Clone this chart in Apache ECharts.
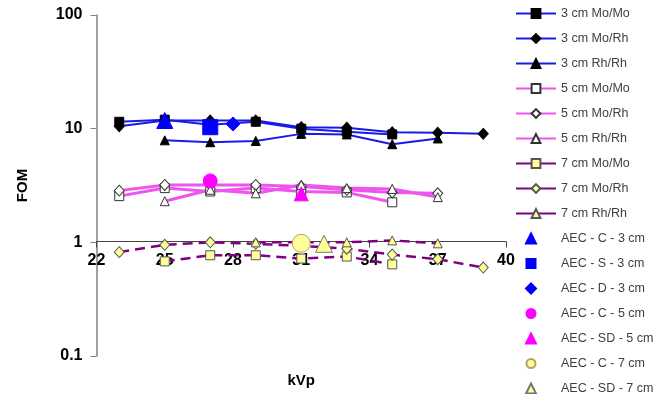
<!DOCTYPE html>
<html><head><meta charset="utf-8">
<script src="https://cdn.jsdelivr.net/npm/echarts@6/dist/echarts.min.js"></script>
<style>html,body{margin:0;padding:0;background:#fff}#c{width:669px;height:394px}</style>
</head><body><div id="c"></div>
<script>
// ---- data ----
const yTicks = [0.1, 1, 10, 100];
const xTicks = [22, 25, 28, 31, 34, 37, 40];

const kvp3MoMo = [23, 25, 27, 29, 31, 33, 35];
const fom3MoMo = [11.5, 12.0, 10.8, 11.5, 10.0, 9.4, 8.9];
const kvp3MoRh = [23, 25, 27, 29, 31, 33, 35, 37, 39];
const fom3MoRh = [10.5, 11.8, 11.8, 11.8, 10.3, 10.2, 9.3, 9.2, 9.0];
const kvp3RhRh = [25, 27, 29, 31, 33, 35, 37];
const fom3RhRh = [7.9, 7.6, 7.8, 9.0, 8.9, 7.3, 8.2];

const kvp5MoMo = [23, 25, 27, 29, 31, 33, 35];
const fom5MoMo = [2.55, 3.0, 2.8, 3.0, 2.8, 2.75, 2.25];
const kvp5MoRh = [23, 25, 27, 29, 31, 33, 35, 37];
const fom5MoRh = [2.85, 3.2, 3.2, 3.2, 3.1, 2.9, 2.75, 2.7];
const kvp5RhRh = [25, 27, 29, 31, 33, 35, 37];
const fom5RhRh = [2.3, 2.9, 2.7, 3.2, 3.0, 2.95, 2.5];

const kvp7MoMo = [25, 27, 29, 31, 33, 35];
const fom7MoMo = [0.68, 0.77, 0.77, 0.72, 0.75, 0.64];
const kvp7MoRh = [23, 25, 27, 29, 31, 33, 35, 37, 39];
const fom7MoRh = [0.82, 0.95, 1.0, 0.97, 0.93, 0.88, 0.78, 0.71, 0.60];
const kvp7RhRh = [29, 31, 33, 35, 37];
const fom7RhRh = [1.0, 1.0, 1.0, 1.04, 0.98];

const aecNames = ['AEC - C - 3 cm', 'AEC - S - 3 cm', 'AEC - D - 3 cm', 'AEC - C - 5 cm', 'AEC - SD - 5 cm', 'AEC - C - 7 cm', 'AEC - SD - 7 cm'];
const aecKvp = [25, 27, 28, 27, 31, 31, 32];
const aecFom = [11.8, 10.3, 11.0, 3.47, 2.67, 0.98, 0.97];

// ---- build ----
const pairs = (xs, ys) => xs.map((x, i) => [x, ys[i]]);
const FONT = 'Liberation Sans, Arial, sans-serif';

function lineSeries(name, xs, ys, symbol, group) {
  const st = {
    3: { line: { color: '#1a1ae6', width: 2 }, item: { color: '#000', borderColor: '#000', borderWidth: 1 } },
    5: { line: { color: '#ee55ee', width: 3 }, item: { color: '#fff', borderColor: '#333', borderWidth: 1 } },
    7: { line: { color: '#800080', width: 2.5, type: [10, 6] }, item: { color: '#ffff99', borderColor: '#555', borderWidth: 1 } }
  }[group];
  return {
    name, type: 'line', data: pairs(xs, ys), symbol,
    symbolSize: symbol === 'diamond' ? [10, 11] : 9,
    showAllSymbol: true,
    lineStyle: st.line, itemStyle: st.item, z: 2
  };
}

// legend icons for the AEC markers: shape on the left part of a 40x11 box
const PAD = ' M0,0L0,0 M40,11L40,11';
const ICONS = {
  triangle: 'path://M15,0.5L20,10.5L10,10.5Z' + PAD,
  rect: 'path://M10.5,1L19.5,1L19.5,10L10.5,10Z' + PAD,
  diamond: 'path://M15,0.5L20,5.5L15,10.5L10,5.5Z' + PAD,
  circle: 'path://M15,1A4.5,4.5,0,1,1,14.999,1Z' + PAD
};
const aecStyles = [
  { symbol: 'triangle', size: 16, color: '#0000ff', border: '#0000ff' },
  { symbol: 'rect', size: 15, color: '#0000ff', border: '#0000ff' },
  { symbol: 'diamond', size: 14, color: '#0000ff', border: '#0000ff' },
  { symbol: 'circle', size: 14, color: '#ff00ff', border: '#ff00ff' },
  { symbol: 'triangle', size: 14, color: '#ff00ff', border: '#ff00ff' },
  { symbol: 'circle', size: 18, color: '#ffff99', border: '#b8a060' },
  { symbol: 'triangle', size: 17, color: '#ffff99', border: '#777' }
];
const aecSeries = aecNames.map((n, i) => ({
  name: n, type: 'scatter', data: [[aecKvp[i], aecFom[i]]],
  symbol: aecStyles[i].symbol, symbolSize: aecStyles[i].size,
  itemStyle: { color: aecStyles[i].color, borderColor: aecStyles[i].border, borderWidth: 1, opacity: 1 },
  z: 5
}));

const series = [
  lineSeries('3 cm Mo/Mo', kvp3MoMo, fom3MoMo, 'rect', 3),
  lineSeries('3 cm Mo/Rh', kvp3MoRh, fom3MoRh, 'diamond', 3),
  lineSeries('3 cm Rh/Rh', kvp3RhRh, fom3RhRh, 'triangle', 3),
  lineSeries('5 cm Mo/Mo', kvp5MoMo, fom5MoMo, 'rect', 5),
  lineSeries('5 cm Mo/Rh', kvp5MoRh, fom5MoRh, 'diamond', 5),
  lineSeries('5 cm Rh/Rh', kvp5RhRh, fom5RhRh, 'triangle', 5),
  lineSeries('7 cm Mo/Mo', kvp7MoMo, fom7MoMo, 'rect', 7),
  lineSeries('7 cm Mo/Rh', kvp7MoRh, fom7MoRh, 'diamond', 7),
  lineSeries('7 cm Rh/Rh', kvp7RhRh, fom7RhRh, 'triangle', 7)
].concat(aecSeries);

const legendData = series.map((s, i) => {
  const d = { name: s.name };
  if (s.name.indexOf('7 cm') === 0) d.lineStyle = { type: 'solid' };
  if (s.type === 'scatter') d.icon = ICONS[s.symbol];
  return d;
});

const legendBase = {
  type: 'plain', orient: 'vertical', left: 515, padding: 0,
  itemWidth: 40, itemHeight: 11, itemGap: 12, itemTextGap: 3,
  symbolKeepAspect: true,
  textStyle: { fontFamily: FONT, fontSize: 12.5, color: '#404040' }
};

const chart = echarts.init(document.getElementById('c'), null, { renderer: 'canvas' });
chart.setOption({
  animation: false,
  backgroundColor: '#fff',
  textStyle: { fontFamily: FONT },
  grid: { left: 96.5, right: 163, top: 15, bottom: 38, containLabel: false },
  legend: [
    Object.assign({}, legendBase, { top: 7, data: legendData.slice(0, 8) }),
    Object.assign({}, legendBase, { top: 207, data: legendData.slice(8, 14) }),
    Object.assign({}, legendBase, { orient: 'horizontal', top: 357, width: 154, data: legendData.slice(14) })
  ],
  xAxis: {
    type: 'value', min: 22, max: 40, interval: 3,
    offset: -114.5,
    name: 'kVp', nameLocation: 'middle', nameGap: 132,
    nameTextStyle: { fontFamily: FONT, fontSize: 15, fontWeight: 'bold', color: '#000' },
    axisLine: { onZero: false, lineStyle: { color: '#444', width: 1 } },
    axisTick: { show: true, inside: false, length: 6, lineStyle: { color: '#444' } },
    axisLabel: { fontFamily: FONT, fontSize: 16, fontWeight: 'bold', color: '#000', margin: 11,
      formatter: v => (xTicks.indexOf(v) >= 0 ? String(v) : '') },
    splitLine: { show: false }
  },
  yAxis: {
    type: 'log', logBase: 10, min: 0.1, max: 100,
    name: 'FOM', nameLocation: 'middle', nameGap: 66, nameRotate: 90,
    nameTextStyle: { fontFamily: FONT, fontSize: 15, fontWeight: 'bold', color: '#000' },
    axisLine: { show: true, lineStyle: { color: '#808080', width: 1.5 } },
    axisTick: { show: true, inside: false, length: 6, lineStyle: { color: '#808080' } },
    minorTick: { show: false },
    axisLabel: { fontFamily: FONT, fontSize: 16, fontWeight: 'bold', color: '#000', margin: 14,
      formatter: v => { const t = yTicks.find(k => Math.abs(k - v) / k < 1e-6); return t === undefined ? '' : String(t); } },
    splitLine: { show: false }
  },
  series
});
</script></body></html>
